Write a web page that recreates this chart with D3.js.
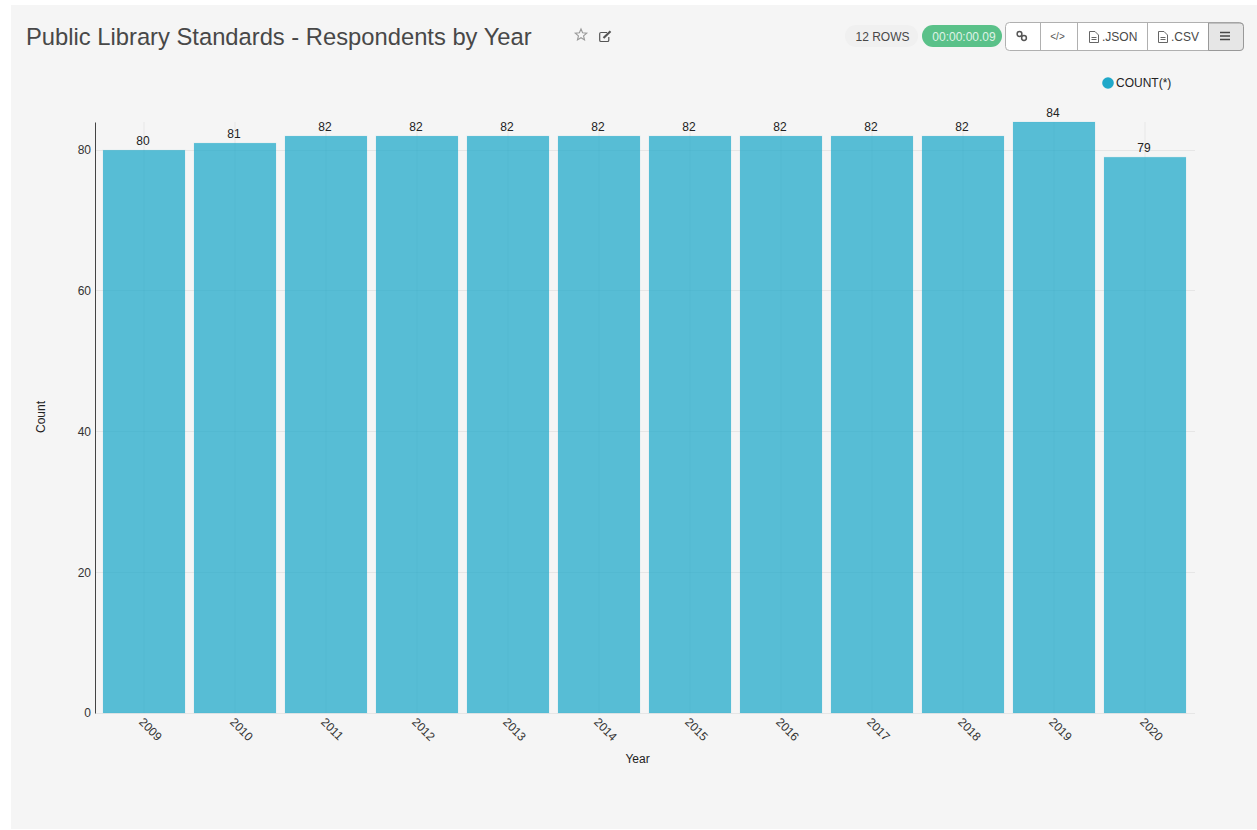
<!DOCTYPE html>
<html>
<head>
<meta charset="utf-8">
<script src="https://cdn.jsdelivr.net/npm/d3@7/dist/d3.min.js"></script>
<style>
  html, body { margin: 0; padding: 0; background: #fff; overflow: hidden; }
  svg { display: block; font-family: "Liberation Sans", Arial, sans-serif; }
  text { fill: #333; }
</style>
</head>
<body>
<svg id="chart" width="1257" height="830"></svg>
<script>
// Respondent counts per survey year
const years = ["2009","2010","2011","2012","2013","2014","2015","2016","2017","2018","2019","2020"];
const counts = [80,81,82,82,82,82,82,82,82,82,84,79];
const yTicks = [0,20,40,60,80];
const chartTitle = "Public Library Standards - Respondents by Year";
const seriesName = "COUNT(*)";
const rowLabel = "12 ROWS";
const timerLabel = "00:00:00.09";

const svg = d3.select("#chart");
const barColor = "#1fa8c9";

// Panel behind the chart
svg.append("rect").attr("x", 11).attr("y", 5).attr("width", 1246).attr("height", 824).attr("fill", "#f5f5f5");

svg.append("text").attr("x", 26).attr("y", 45).attr("font-size", 23.76)
  .style("fill", "#484848").text(chartTitle);

// Favourite star and edit icons beside the title
const star = d3.range(10).map(i => {
  const r = i % 2 ? 2.7 : 6, a = -Math.PI / 2 + i * Math.PI / 5;
  return [r * Math.cos(a), r * Math.sin(a)];
});
svg.append("path").attr("transform", "translate(581,35)")
  .attr("d", d3.line()(star) + "Z").attr("fill", "none").attr("stroke", "#999").attr("stroke-width", 1.1);
const edit = svg.append("g").attr("transform", "translate(599,30.500)").attr("fill", "none").attr("stroke", "#555");
edit.append("path").attr("d", "M8 2H2Q0.7 2 0.7 3.300V9.700Q0.7 11 2 11H8.500Q9.800 11 9.800 9.700V6.500").attr("stroke-width", 1.2);
edit.append("path").attr("d", "M4.500 7.500L11.500 0.7").attr("stroke-width", 2.2);

// Row count badge and timer pill
svg.append("rect").attr("x", 845).attr("y", 25).attr("width", 73).attr("height", 22).attr("rx", 11).attr("fill", "#f0f0f0");
svg.append("text").attr("x", 882.5).attr("y", 40.5).attr("text-anchor", "middle").attr("font-size", 12)
  .style("fill", "#484848").text(rowLabel);
svg.append("rect").attr("x", 922).attr("y", 25).attr("width", 80).attr("height", 22).attr("rx", 11).attr("fill", "#5ac189");
svg.append("text").attr("x", 964).attr("y", 40.5).attr("text-anchor", "middle").attr("font-size", 12)
  .style("fill", "#dff3e7").text(timerLabel);

// Toolbar button group
const toolbarEdges = [1006, 1040, 1077, 1147, 1208, 1244];
const toolbar = svg.append("g");
toolbar.append("rect").attr("x", 1005.5).attr("y", 22.5).attr("width", 238).attr("height", 28).attr("rx", 4)
  .attr("fill", "#fff").attr("stroke", "#b0b0b0");
toolbar.append("path").attr("d", "M1208.5 23H1240Q1243.5 23 1243.5 26.500V47Q1243.5 50.500 1240 50.500H1208.5Z")
  .attr("fill", "#e6e6e6").attr("stroke", "#999");
toolbarEdges.slice(1, 4).forEach(x => {
  toolbar.append("line").attr("x1", x + 0.5).attr("x2", x + 0.5).attr("y1", 23).attr("y2", 50).attr("stroke", "#b0b0b0");
});
// Link icon
toolbar.append("circle").attr("cx", 1019.5).attr("cy", 34).attr("r", 2.4).attr("fill", "none").attr("stroke", "#555").attr("stroke-width", 1.5);
toolbar.append("circle").attr("cx", 1024).attr("cy", 38).attr("r", 2.4).attr("fill", "none").attr("stroke", "#555").attr("stroke-width", 1.5);
toolbar.append("text").attr("x", 1057.5).attr("y", 40).attr("text-anchor", "middle").attr("font-size", 10)
  .style("fill", "#555").text("</>");
// File icons next to the export labels
[[1089, ".JSON", 1102], [1158, ".CSV", 1171]].forEach(([ix, label, tx]) => {
  toolbar.append("path").attr("transform", `translate(${ix},31)`)
    .attr("d", "M0.5 0.5H6L9.500 4V11.500H0.5ZM2.500 6.500H7.500M2.500 8.500H7.500")
    .attr("fill", "none").attr("stroke", "#666");
  toolbar.append("text").attr("x", tx).attr("y", 41).attr("font-size", 12).style("fill", "#484848").text(label);
});
// Menu icon
[32.5, 36, 39.5].forEach(y => {
  toolbar.append("line").attr("x1", 1220).attr("x2", 1230).attr("y1", y).attr("y2", y).attr("stroke", "#484848").attr("stroke-width", 1.5);
});

// Legend
svg.append("circle").attr("cx", 1108).attr("cy", 83).attr("r", 5.8).attr("fill", barColor);
svg.append("text").attr("x", 1116).attr("y", 87).attr("font-size", 12).style("fill", "#222").text(seriesName);

// Scales
const x = d3.scaleBand().domain(years).range([98.5, 1190.5]).paddingInner(0.1).paddingOuter(0.05);
const y = d3.scaleLinear().domain([0, 84]).range([713, 122]);
const gridRight = 1195;

// Grid lines run behind the translucent bars
const grid = svg.append("g").attr("stroke", "#000").attr("stroke-opacity", 0.06);
grid.selectAll(".h").data(yTicks).join("line").attr("class", "h")
  .attr("x1", 95).attr("x2", gridRight)
  .attr("y1", d => Math.floor(y(d)) + 0.5).attr("y2", d => Math.floor(y(d)) + 0.5);
grid.selectAll(".v").data(years).join("line").attr("class", "v")
  .attr("x1", d => x(d) + x.bandwidth() / 2).attr("x2", d => x(d) + x.bandwidth() / 2)
  .attr("y1", 122).attr("y2", 713);

// Bars
svg.append("g").selectAll("rect").data(years).join("rect")
  .attr("x", d => x(d))
  .attr("width", x.bandwidth())
  .attr("y", (d, i) => y(counts[i]))
  .attr("height", (d, i) => y(0) - y(counts[i]))
  .attr("fill", barColor).attr("fill-opacity", 0.74)
  .attr("stroke", barColor).attr("stroke-opacity", 0.1);

// Value labels
svg.append("g").selectAll("text").data(years).join("text")
  .attr("x", d => x(d) + x.bandwidth() / 2 - 1)
  .attr("y", (d, i) => y(counts[i]) - 5)
  .attr("text-anchor", "middle").attr("font-size", 12).style("fill", "#222")
  .text((d, i) => counts[i]);

// Y axis
const yAxis = d3.axisLeft(y).tickValues(yTicks).tickSize(0).tickPadding(4);
const yG = svg.append("g").attr("transform", "translate(95,0)").call(yAxis);
yG.select(".domain").attr("stroke", "#444").attr("stroke-width", 1);
yG.selectAll("text").attr("font-size", 12).attr("font-family", "Liberation Sans").style("fill", "#333");

// X axis with slanted year labels
const xAxis = d3.axisBottom(x).tickSize(0).tickPadding(0);
const xG = svg.append("g").attr("transform", "translate(0,713)").call(xAxis);
xG.select(".domain").remove();
xG.selectAll("text")
  .attr("font-size", 12).attr("font-family", "Liberation Sans").style("fill", "#333")
  .attr("text-anchor", "start").attr("dy", null).attr("y", 0)
  .attr("transform", "translate(-3,7) rotate(45) translate(0,4)");

// Axis titles
svg.append("text").attr("transform", "translate(45,417) rotate(-90)").attr("text-anchor", "middle")
  .attr("font-size", 12).style("fill", "#222").text("Count");
svg.append("text").attr("x", 637.5).attr("y", 763).attr("text-anchor", "middle")
  .attr("font-size", 12).style("fill", "#222").text("Year");
</script>
</body>
</html>
